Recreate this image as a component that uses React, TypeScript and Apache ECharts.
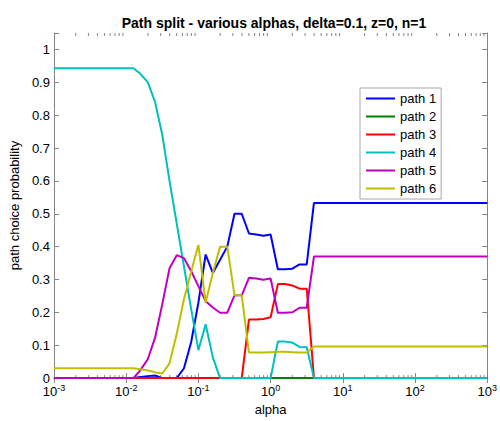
import React, { useEffect, useRef } from "react";
import * as echarts from "echarts";

const ALPHA_EXP = [-3, -1.9, -1.8, -1.7, -1.6, -1.5, -1.4, -1.3, -1.2, -1.1, -1.0, -0.9, -0.8, -0.7, -0.6, -0.5, -0.4, -0.3, -0.2, -0.1, 0.0, 0.1, 0.2, 0.3, 0.4, 0.5, 0.6, 3];

const PATH1 = [0, 0, 0.003, 0.006, 0.008, 0, 0, 0, 0.03, 0.11, 0.23, 0.376, 0.32, 0.36, 0.40, 0.50, 0.50, 0.44, 0.437, 0.433, 0.437, 0.331, 0.331, 0.333, 0.346, 0.346, 0.533, 0.533];
const PATH2 = [0, 0, 0, 0, 0, 0, 0, 0, 0, 0, 0, 0, 0, 0, 0, 0, 0, 0, 0, 0, 0, 0, 0, 0, 0, 0, 0, 0];
const PATH3 = [0, 0, 0, 0, 0, 0, 0, 0, 0, 0, 0, 0, 0, 0, 0, 0, 0, 0.178, 0.178, 0.18, 0.185, 0.286, 0.286, 0.282, 0.272, 0.272, 0, 0];
const PATH4 = [0.943, 0.943, 0.925, 0.90, 0.84, 0.74, 0.60, 0.47, 0.34, 0.21, 0.085, 0.164, 0.063, 0, 0, 0, 0, 0, 0, 0, 0, 0.111, 0.111, 0.108, 0.095, 0.094, 0, 0];
const PATH5 = [0, 0, 0.025, 0.058, 0.123, 0.225, 0.334, 0.374, 0.365, 0.325, 0.28, 0.234, 0.215, 0.199, 0.199, 0.252, 0.252, 0.305, 0.303, 0.299, 0.303, 0.199, 0.199, 0.20, 0.214, 0.214, 0.37, 0.37];
const PATH6 = [0.03, 0.03, 0.027, 0.023, 0.018, 0.014, 0.045, 0.135, 0.24, 0.324, 0.405, 0.23, 0.32, 0.40, 0.40, 0.252, 0.252, 0.078, 0.078, 0.078, 0.079, 0.08, 0.08, 0.079, 0.078, 0.078, 0.096, 0.096];

const SERIES_NAMES = ["path 1", "path 2", "path 3", "path 4", "path 5", "path 6"];
const SERIES_VALUES = [PATH1, PATH2, PATH3, PATH4, PATH5, PATH6];
const COLORS = ["#0000ff", "#008000", "#ff0000", "#00bfbf", "#bf00bf", "#bfbf00"];

const X_DECADES = [-3, -2, -1, 0, 1, 2];
const MINOR_MULTS = [2, 3, 4, 5, 6, 7, 8, 9];

const FONT = "'Liberation Sans', Arial, Helvetica, sans-serif";
const AXIS_COLOR = "#858585";

export default function App() {
  const ref = useRef<HTMLDivElement>(null);
  useEffect(() => {
    document.body.style.margin = "0";
    const chart = echarts.init(ref.current!, null, { renderer: "svg" });
    const alpha = ALPHA_EXP.map((e) => Math.pow(10, e));
    const minorTicks: number[][] = [];
    X_DECADES.forEach((d) => MINOR_MULTS.forEach((m) => minorTicks.push([m * Math.pow(10, d), 0])));

    const lineSeries = SERIES_NAMES.map((name, i) => ({
      name,
      type: "line",
      data: alpha.map((a, j) => [a, SERIES_VALUES[i][j]]),
      symbol: "none",
      lineStyle: { width: 2, color: COLORS[i] },
      itemStyle: { color: COLORS[i] },
      xAxisIndex: 0,
      yAxisIndex: 0,
    }));

    const axisTextX = {
      formatter: (v: number) => `{b|10}{s|${Math.round(Math.log10(v))}}`,
      margin: 5,
      rich: {
        b: { fontSize: 13, color: "#000", fontFamily: FONT },
        s: { fontSize: 9, color: "#000", fontFamily: FONT, padding: [0, 0, 8, 0] },
      },
    };

    chart.setOption({
      animation: false,
      backgroundColor: "#fff",
      title: {
        text: "Path split - various alphas, delta=0.1, z=0, n=1",
        left: 269,
        textAlign: "center",
        top: 11,
        textStyle: { fontSize: 14, fontWeight: "bold", color: "#000", fontFamily: FONT },
      },
      legend: {
        data: SERIES_NAMES,
        orient: "vertical",
        left: 360,
        top: 88,
        icon: "rect",
        itemWidth: 29,
        itemHeight: 2,
        itemGap: 5,
        padding: [4, 5, 4, 6],
        backgroundColor: "#fff",
        borderColor: "#a8a8a8",
        borderWidth: 1,
        textStyle: { fontSize: 13, color: "#000", fontFamily: FONT },
      },
      grid: { left: 49, right: 11, top: 33, bottom: 40 },
      xAxis: [
        {
          type: "log",
          logBase: 10,
          min: 0.001,
          max: 1000,
          interval: 1,
          position: "bottom",
          name: "alpha",
          nameLocation: "middle",
          nameGap: 21,
          nameTextStyle: { fontSize: 13, color: "#000", fontFamily: FONT },
          axisLine: { show: true, lineStyle: { color: AXIS_COLOR, width: 1 } },
          axisTick: { show: true, inside: true, length: 5, lineStyle: { color: AXIS_COLOR } },
          axisLabel: axisTextX,
          splitLine: { show: false },
        },
        {
          type: "log",
          logBase: 10,
          min: 0.001,
          max: 1000,
          interval: 1,
          position: "top",
          axisLine: { show: true, lineStyle: { color: AXIS_COLOR, width: 1 } },
          axisTick: { show: true, inside: true, length: 5, lineStyle: { color: AXIS_COLOR } },
          axisLabel: { show: false },
          splitLine: { show: false },
        },
      ],
      yAxis: [
        {
          type: "value",
          min: 0,
          max: 1.05,
          interval: 0.1,
          position: "left",
          name: "path choice probability",
          nameLocation: "middle",
          nameGap: 23,
          nameTextStyle: { fontSize: 13, color: "#000", fontFamily: FONT },
          axisLine: { show: true, lineStyle: { color: AXIS_COLOR, width: 1 } },
          axisTick: { show: true, inside: true, length: 5, lineStyle: { color: AXIS_COLOR } },
          axisLabel: {
            fontSize: 13,
            color: "#000",
            fontFamily: FONT,
            margin: 4,
            formatter: (v: number) => (v > 1.0001 ? "" : String(Math.round(v * 10) / 10)),
          },
          splitLine: { show: false },
        },
        {
          type: "value",
          min: 0,
          max: 1.05,
          interval: 0.1,
          position: "right",
          axisLine: { show: true, lineStyle: { color: AXIS_COLOR, width: 1 } },
          axisTick: { show: true, inside: true, length: 5, lineStyle: { color: AXIS_COLOR } },
          axisLabel: { show: false },
          splitLine: { show: false },
        },
      ],
      series: [
        {
          type: "custom",
          name: "minorTicks",
          silent: true,
          xAxisIndex: 0,
          yAxisIndex: 0,
          clip: false,
          data: minorTicks,
          encode: { x: 0, y: 1 },
          renderItem: (params: any, api: any) => {
            const v = api.value(0);
            const b = api.coord([v, 0]);
            const t = api.coord([v, 1.05]);
            const st = { stroke: AXIS_COLOR, lineWidth: 1 };
            return {
              type: "group",
              children: [
                { type: "line", shape: { x1: b[0], y1: b[1], x2: b[0], y2: b[1] - 3 }, style: st },
                { type: "line", shape: { x1: t[0], y1: t[1], x2: t[0], y2: t[1] + 3 }, style: st },
              ],
            };
          },
        },
        ...lineSeries,
      ],
    });
    return () => chart.dispose();
  }, []);
  return <div ref={ref} style={{ width: 500, height: 421 }} />;
}
